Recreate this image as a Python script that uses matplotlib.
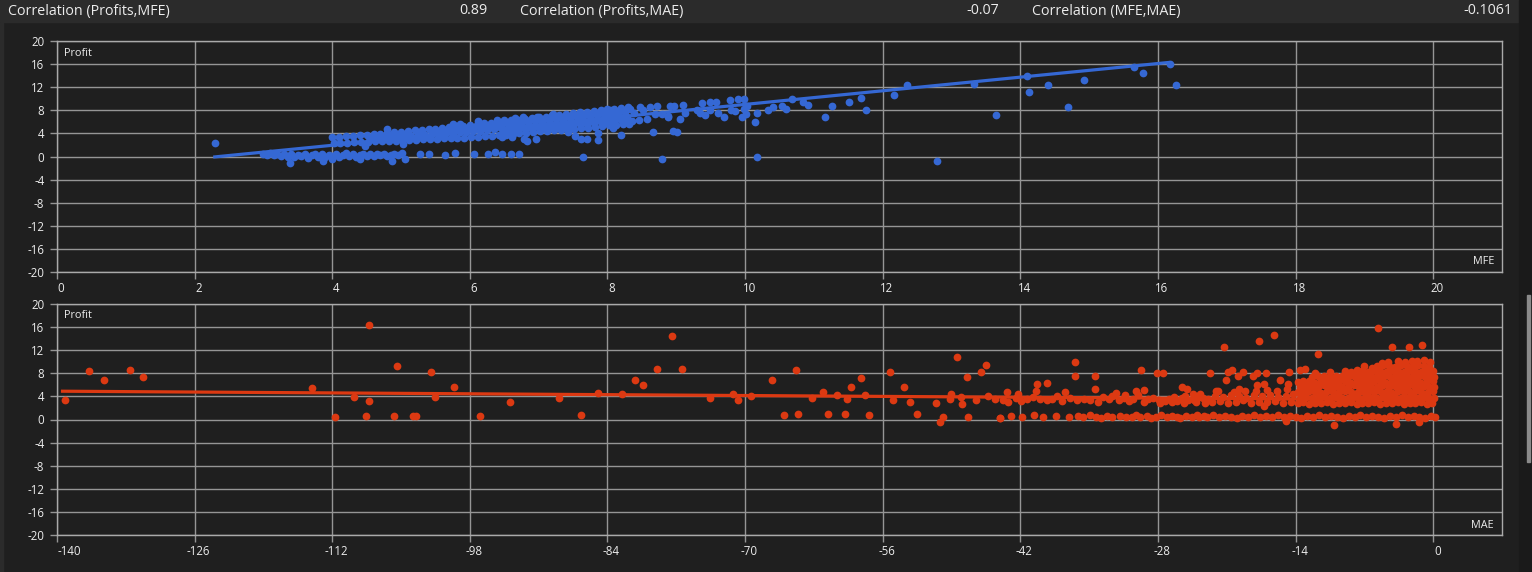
import numpy as np
import matplotlib
matplotlib.use("Agg")
import matplotlib.pyplot as plt
from matplotlib.transforms import ScaledTranslation
from matplotlib.patches import Rectangle

plt.rcParams["axes.unicode_minus"] = False

# ---------------- header texts ----------------
corr_labels = ["Correlation (Profits,MFE)", "Correlation (Profits,MAE)", "Correlation (MFE,MAE)"]
corr_values = ["0.89", "-0.07", "-0.1061"]

# ---------------- ticks ----------------
mfe_ticks = [0, 2, 4, 6, 8, 10, 12, 14, 16, 18, 20]
mae_ticks = [-140, -126, -112, -98, -84, -70, -56, -42, -28, -14, 0]
profit_ticks = [-20, -16, -12, -8, -4, 0, 4, 8, 12, 16, 20]

# ---------------- trend lines ----------------
mfe_trend_x = [2.27, 16.17]
mfe_trend_y = [-0.1, 16.3]
mae_trend_x = [-139.6, -0.1]
mae_trend_y = [4.9, 3.4]

# ---------------- Profit vs MFE (MFE, Profit) ----------------
mfe_band_top = [(4.00,3.30),(4.10,3.38),(4.20,3.52),(4.30,3.58),(4.40,3.72),(4.50,3.78),(4.60,3.92),(4.70,3.98),
    (4.80,4.12),(4.90,4.18),(5.00,4.32),(5.10,4.38),(5.20,4.55),(5.30,4.60),(5.40,4.78),(5.50,4.82),(5.60,5.00),
    (5.70,5.04),(5.80,5.22),(5.90,5.26),(6.00,5.44),(6.10,5.50),(6.20,5.72),(6.30,5.78),(6.40,6.00),(6.50,6.06),
    (6.60,6.28),(6.70,6.34),(6.80,6.56),(6.90,6.62),(7.00,6.84),(7.10,6.90),(7.20,7.12),(7.30,7.18),(7.40,7.40),
    (7.50,7.46),(7.60,7.68),(7.70,7.74),(7.80,7.96),(7.90,8.02),(8.00,8.22),(8.10,8.28),(8.20,8.46),(8.30,8.52)]
mfe_band_mid = [(4.55,3.18),(4.65,3.26),(4.75,3.33),(4.85,3.42),(4.95,3.48),(5.05,3.56),(5.15,3.62),(5.25,3.72),
    (5.35,3.80),(5.45,3.90),(5.55,3.95),(5.65,4.05),(5.75,4.12),(5.85,4.22),(5.95,4.28),(6.05,4.40),(6.15,4.50),
    (6.25,4.62),(6.35,4.72),(6.45,4.86),(6.55,4.95),(6.65,5.10),(6.75,5.18),(6.85,5.34),(6.95,5.42),(7.05,5.58),
    (7.15,5.66),(7.25,5.82),(7.35,5.90),(7.45,6.06),(7.55,6.14),(7.65,6.30),(7.75,6.38),(7.85,6.54),(7.95,6.62),
    (8.05,6.80),(8.15,6.88),(8.25,7.02),
    (7.35,6.55),(7.45,6.73),(7.55,6.80),(7.65,7.00),(7.75,7.06),(7.85,7.25),(7.95,7.32),(8.05,7.50),(8.15,7.58),(8.25,7.74),
    (5.55,4.43),(5.65,4.54),(5.75,4.62),(5.85,4.73),(5.95,4.82),(6.05,4.94),(6.15,5.06),(6.25,5.18),(6.35,5.30),
    (6.45,5.44),(6.55,5.56),(6.65,5.70),(6.75,5.82),(6.85,5.96),(6.95,6.08),(7.05,6.22),(7.15,6.34),(7.25,6.48),
    (6.50,4.36),(6.60,4.49),(6.70,4.57),(6.80,4.70),(6.90,4.79),(7.00,4.92),(7.10,5.02),(7.20,5.14),(7.30,5.23),
    (7.40,5.36),(7.50,5.46),(7.60,5.58),(7.70,5.68),(7.80,5.80),(7.90,5.90),(8.00,6.05),(8.10,6.16),(8.20,6.28),(8.30,6.36)]
mfe_band_low = [(4.02,2.30),(4.12,2.36),(4.22,2.38),(4.32,2.46),(4.42,2.50),(4.52,2.55),(4.62,2.62),(4.72,2.64),
    (4.82,2.72),(4.92,2.75),(5.02,2.82),(5.12,2.84),(5.22,2.92),(5.32,2.95),(5.42,3.02),(5.52,3.05),(5.62,3.12),
    (5.72,3.15),(5.82,3.22),(5.92,3.26),(6.02,3.35),(6.12,3.42),(6.22,3.55),(6.32,3.60),(6.42,3.75),(6.52,3.80),
    (6.62,3.95),(6.72,4.00),(6.82,4.15),(6.92,4.20),(7.02,4.35),(7.12,4.42),(7.22,4.55),(7.32,4.62),(7.42,4.75),
    (7.52,4.82),(7.62,4.95),(7.72,5.02),(7.82,5.15),(7.92,5.22),(8.02,5.40),(8.12,5.50),(8.22,5.62),(8.32,5.70)]
mfe_zero_band = [(3.00,0.50),(3.05,0.30),(3.10,0.60),(3.15,0.20),(3.20,0.45),(3.25,0.10),(3.30,0.40),(3.35,0.00),
    (3.40,0.35),(3.45,-0.10),(3.50,0.30),(3.55,0.05),(3.60,0.45),(3.65,-0.20),(3.70,0.25),(3.75,0.50),(3.80,0.00),
    (3.85,0.35),(3.90,-0.15),(3.95,0.30),(4.00,0.05),(4.05,0.40),(4.10,-0.10),(4.15,0.25),(4.20,0.55),(4.25,0.10),
    (4.30,0.35),(4.35,-0.05),(4.40,0.30),(4.45,0.50),(4.50,0.15),(4.55,0.40),(4.60,0.05),(4.65,0.35),(4.70,0.20),
    (4.75,0.45),(4.80,0.10),(4.85,0.30),(4.90,0.50),(4.95,0.20),
    (3.38,-1.10),(3.87,-0.75),(4.00,-0.50),(4.41,-0.40),(4.87,-0.80),(5.06,-0.50),(5.02,0.60),(5.27,0.45),
    (5.40,0.45),(5.64,0.30),(5.79,0.60),(6.06,0.45),(6.27,0.35),(6.36,0.75),(6.47,0.45),(6.60,0.35),(6.72,0.45),
    (7.64,-0.10),(8.79,-0.35),(10.17,-0.10),(12.79,-0.70)]
mfe_scatter = [(2.30,2.30),(4.48,1.90),(4.80,4.75),(5.03,2.20),(5.76,5.70),(5.85,5.70),(6.12,6.10),(6.40,6.40),
    (6.50,6.40),(6.66,6.60),(6.77,6.80),(6.97,6.90),(7.21,7.30),(6.46,3.30),(6.61,3.30),(6.78,3.10),(6.83,2.60),
    (6.96,3.10),(7.43,4.20),(7.53,3.60),(7.61,3.10),(7.70,3.10),(7.86,4.00),(7.86,2.80),(8.08,5.00),(8.20,3.80),
    (8.66,4.20),(8.95,4.50),(9.01,4.30),
    (7.94,7.60),(8.04,8.00),(8.19,8.10),(8.33,8.30),(8.47,8.50),(8.62,8.50),(8.72,8.80),(8.91,8.80),(8.97,8.80),
    (9.10,9.00),(9.37,9.30),(9.49,9.40),(9.58,9.50),(9.78,9.70),(9.90,9.90),(9.99,9.90),(7.94,5.90),(8.18,6.80),
    (8.28,6.80),(8.04,6.80),(8.14,7.40),(8.36,6.20),(8.38,7.60),(8.46,6.40),(8.52,8.00),(8.57,6.50),(8.69,7.40),
    (8.79,7.40),(8.88,7.00),(8.88,6.80),(9.06,6.50),(9.13,7.50),(9.30,8.00),(9.35,7.60),(9.42,7.10),(9.49,8.10),
    (9.61,7.60),(9.70,6.90),(9.80,8.00),(9.86,7.80),(9.96,6.80),(9.98,8.30),(10.03,8.80),(10.02,7.40),(10.15,5.90),
    (10.17,7.60),(10.33,8.10),(10.41,8.50),(10.54,8.80),(10.59,8.30),(10.68,10.00),(10.84,9.40),(10.92,9.00),
    (11.16,6.80),(11.27,8.70),(11.51,9.50),(11.68,10.20),(11.76,8.10),(12.16,10.60),(12.35,12.30),(13.33,12.60),
    (13.65,7.10),(14.10,14.00),(14.13,11.10),(14.40,12.30),(14.69,8.50),(14.93,13.30),(15.65,15.50),(15.78,14.40),
    (16.17,16.00),(16.26,12.30)]

# ---------------- Profit vs MAE (MAE, Profit) ----------------
mae_scatter = [(-139.2,3.4),(-136.7,8.4),(-135.2,6.8),(-132.6,8.5),(-131.3,7.3),(-114.1,5.5),(-111.7,0.4),
    (-109.8,3.9),(-108.6,0.6),(-108.3,16.3),(-108.3,3.2),(-105.7,0.6),(-105.4,9.2),(-103.8,0.6),(-103.5,0.6),
    (-102.0,8.3),(-101.5,3.9),(-99.6,5.7),(-97.0,0.6),(-93.9,3.1),(-88.9,3.8),(-86.7,0.7),(-85.0,4.6),(-82.5,4.5),
    (-81.2,6.8),(-80.4,5.9),(-79.0,8.8),(-77.4,14.4),(-76.4,8.7),(-73.6,3.8),(-71.2,4.5),(-70.7,3.3),(-69.4,4.0),
    (-67.3,6.8),(-66.0,0.7),(-64.8,8.5),(-64.6,0.9),(-63.2,3.8),(-62.1,4.7),(-61.6,0.9),(-60.6,4.3),(-59.8,0.9),
    (-59.6,3.5),(-59.2,5.7),(-58.2,7.1),(-57.8,4.3),(-57.4,0.7),(-55.3,8.3),(-55.0,3.3),(-53.8,5.7),(-53.2,3.1),
    (-52.5,0.9),(-50.6,2.9),(-50.2,-0.5),(-49.9,0.5),(-49.1,4.5),(-48.4,10.9),(-47.9,2.6),(-47.4,7.3),(-47.3,0.5),
    (-46.0,8.3),(-45.5,9.5),(-44.1,0.3),(-43.4,4.7),(-42.2,4.5),(-40.4,4.9),(-40.3,6.2),(-39.3,6.4),(-37.5,4.7),
    (-36.4,9.9),(-36.4,7.6),(-34.4,7.5),(-34.4,5.2),(-32.3,4.6),(-31.4,4.3),(-30.2,4.9),(-29.7,8.6),(-29.4,5.1),
    (-28.1,8.1),(-27.5,8.1),(-25.6,5.7),(-25.0,5.2),(-24.4,4.4),(-23.7,4.5),(-22.7,8.0),(-22.1,5.0),(-21.9,5.0),
    (-21.3,12.6),(-21.1,6.9),(-20.9,8.2),(-20.5,8.5),(-19.9,7.6),(-19.8,5.3),(-19.3,8.3),(-18.3,7.6),(-17.9,8.0),
    (-17.9,5.9),(-17.7,13.6),(-17.2,6.2),(-17.2,2.3),(-17.0,8.1),(-16.2,14.7),(-15.6,6.8),(-14.8,6.1),(-14.7,8.3),
    (-13.6,8.5),(-13.0,8.7),(-11.7,11.4),(-10.1,-1.0),(-5.6,15.8),(-4.2,12.5),(-3.8,-0.7),(-2.5,12.5),(-1.1,12.9),
    (-15.0,-0.2),(-1.4,-0.5)]
mae_mid_band = [(-49.2,3.6),(-48.0,3.9),(-46.5,3.3),(-45.3,4.0),(-44.6,3.5),(-43.8,3.4),(-43.3,3.1),(-42.4,3.7),
    (-41.9,3.2),(-41.3,3.5),(-40.7,3.9),(-40.0,3.6),(-39.3,3.3),(-38.8,3.6),(-38.3,4.0),(-37.8,3.2),(-36.9,3.8),
    (-36.2,3.3),(-35.5,3.6),(-34.9,3.4),(-34.1,3.0),(-33.6,3.9),(-33.0,3.6),(-32.7,4.1),(-32.0,3.3),(-31.5,3.7),
    (-30.9,3.2),(-30.5,3.5),(-30.0,4.2),(-29.4,3.1),(-29.0,3.6),(-28.5,3.8),(-27.9,3.4),(-27.3,3.2),(-26.9,3.6),
    (-26.4,3.9),(-26.1,3.2),(-25.6,3.7),(-25.2,4.0),(-24.9,3.4),(-24.3,3.3),(-23.8,3.9),(-23.4,3.7),(-22.9,3.5),
    (-27.8,2.9),(-26.6,3.0),(-25.4,2.8),(-24.1,3.0),(-23.2,2.9),
    (-22.5,3.0),(-21.7,3.2),(-20.9,2.9),(-20.1,3.1),(-19.3,3.3),(-18.5,2.9),(-17.7,3.1),(-16.9,3.0),(-16.1,3.2),
    (-15.3,2.9),(-14.5,3.1),
    (-22.2,4.1),(-21.4,3.9),(-20.6,4.2),(-19.8,4.0),(-19.0,3.8),(-18.2,4.2),(-17.4,4.0),(-16.6,4.3),(-15.8,3.9),
    (-15.0,4.1),(-14.3,4.4),
    (-20.3,4.8),(-19.1,5.0),(-18.0,4.9),(-16.9,5.1),(-15.9,5.0),(-14.9,5.3)]
mae_mass = [
    (-13.8,2.8),(-13.2,3.0),(-12.6,2.7),(-12.0,2.9),(-11.4,2.8),(-10.8,3.0),(-10.2,2.7),(-9.6,2.9),(-9.0,2.8),
    (-8.4,3.0),(-7.8,2.7),(-7.2,2.9),(-6.6,2.8),(-6.0,3.0),(-5.4,2.7),(-4.8,2.9),(-4.2,2.8),(-3.6,3.0),(-3.0,2.7),
    (-2.4,2.9),(-1.8,2.8),(-1.2,3.0),(-0.6,2.7),(-0.1,2.9),
    (-13.5,3.8),(-12.9,3.9),(-12.3,3.7),(-11.7,3.8),(-11.1,4.0),(-10.5,3.7),(-9.9,3.9),(-9.3,3.8),(-8.7,3.7),
    (-8.1,4.0),(-7.5,3.8),(-6.9,3.9),(-6.3,3.7),(-5.7,3.8),(-5.1,4.0),(-4.5,3.7),(-3.9,3.9),(-3.3,3.8),(-2.7,3.7),
    (-2.1,4.0),(-1.5,3.8),(-0.9,3.9),(-0.4,3.7),(0.1,3.8),
    (-13.8,4.8),(-13.2,4.7),(-12.6,4.9),(-12.0,4.8),(-11.4,4.6),(-10.8,4.9),(-10.2,4.8),(-9.6,4.7),(-9.0,4.9),
    (-8.4,4.8),(-7.8,4.6),(-7.2,4.9),(-6.6,4.8),(-6.0,4.7),(-5.4,4.9),(-4.8,4.8),(-4.2,4.6),(-3.6,4.9),(-3.0,4.8),
    (-2.4,4.7),(-1.8,4.9),(-1.2,4.8),(-0.6,4.6),(0.0,4.9),
    (-13.5,5.7),(-12.9,5.8),(-12.3,5.6),(-11.7,5.7),(-11.1,5.9),(-10.5,5.6),(-9.9,5.8),(-9.3,5.7),(-8.7,5.6),
    (-8.1,5.9),(-7.5,5.7),(-6.9,5.8),(-6.3,5.6),(-5.7,5.7),(-5.1,5.9),(-4.5,5.6),(-3.9,5.8),(-3.3,5.7),(-2.7,5.6),
    (-2.1,5.9),(-1.5,5.7),(-0.9,5.8),(-0.4,5.6),(0.1,5.7),
    (-13.8,6.5),(-13.2,6.7),(-12.6,6.6),(-12.0,6.4),(-11.4,6.7),(-10.8,6.6),(-10.2,6.5),(-9.6,6.7),(-9.0,6.6),
    (-8.4,6.4),(-7.8,6.7),(-7.2,6.6),(-6.6,6.5),(-6.0,6.7),(-5.4,6.6),(-4.8,6.4),(-4.2,6.7),(-3.6,6.6),(-3.0,6.5),
    (-2.4,6.7),(-1.8,6.6),(-1.2,6.4),(-0.6,6.7),(0.0,6.6),
    (-12.3,7.4),(-11.7,7.6),(-11.1,7.5),(-10.5,7.3),(-9.9,7.6),(-9.3,7.5),(-8.7,7.4),(-8.1,7.6),(-7.5,7.5),
    (-6.9,7.3),(-6.3,7.6),(-5.7,7.5),(-5.1,7.4),(-4.5,7.6),(-3.9,7.5),(-3.3,7.3),(-2.7,7.6),(-2.1,7.5),(-1.5,7.4),
    (-0.9,7.6),(-0.4,7.5),(0.1,7.3),
    (-9.0,8.4),(-8.4,8.3),(-7.8,8.5),(-7.2,8.4),(-6.6,8.2),(-6.0,8.5),(-5.4,8.4),(-4.8,8.3),(-4.2,8.5),(-3.6,8.4),
    (-3.0,8.2),(-2.4,8.5),(-1.8,8.4),(-1.2,8.3),(-0.6,8.5),(0.0,8.4),
    (-5.7,9.2),(-5.1,9.4),(-4.5,9.3),(-3.9,9.1),(-3.3,9.4),(-2.7,9.3),(-2.1,9.2),(-1.5,9.4),(-0.9,9.3),(-0.4,9.1),
    (-3.6,10.1),(-2.9,10.0),(-2.2,10.2),(-1.6,10.1),(-0.9,10.3),(-0.3,10.0),
    (-10.5,8.3),(-12.0,8.0),(-7.0,9.2),(-6.2,9.0),(-4.6,10.0),(-5.2,9.8)]
mae_zero_band = [(-44.1,0.3),(-43.0,0.6),(-41.8,0.5),(-40.6,0.7),(-39.7,0.5),(-38.4,0.6),(-37.1,0.4),(-36.1,0.6),
    (-35.6,0.5),(-34.9,0.7),(-34.3,0.4),(-33.8,0.2),(-33.2,0.6),(-32.7,0.5),(-31.9,0.6),(-31.3,0.4),(-30.6,0.5),
    (-30.2,0.7),(-29.8,0.4),(-29.1,0.6),(-28.7,0.3),(-28.2,0.5),(-27.7,0.7),(-27.1,0.4),(-26.6,0.6),(-26.1,0.5),
    (-25.8,0.3),(-25.1,0.6),(-24.5,0.5),(-24.0,0.7),(-23.8,0.4),(-23.3,0.6),(-23.0,0.5),(-22.4,0.7),(-21.8,0.4),
    (-21.2,0.6),(-20.6,0.5),(-20.0,0.3),(-19.4,0.6),(-18.8,0.5),(-18.2,0.7),(-17.6,0.4),(-17.0,0.6),(-16.4,0.5),
    (-15.8,0.7),(-15.2,0.4),(-14.6,0.6),(-14.0,0.5),(-13.4,0.3),(-12.8,0.6),(-12.2,0.5),(-11.6,0.7),(-11.0,0.4),
    (-10.4,0.6),(-9.8,0.5),(-9.2,0.2),(-8.6,0.6),(-8.0,0.5),(-7.4,0.7),(-6.8,0.4),(-6.2,0.6),(-5.6,0.5),(-5.0,0.3),
    (-4.4,0.6),(-3.8,0.5),(-3.2,0.7),(-2.6,0.4),(-2.0,0.6),(-1.4,0.5),(-0.8,0.2),(-0.2,0.6),(0.2,0.4)]

# ---------------- style ----------------
BG = "#1f1f1f"
HEADER = "#2b2b2b"
GRID = "#959595"
TXT = "#ececec"
BLUE = "#3568d4"
RED = "#dc3912"
FONT = ["Open Sans", "DejaVu Sans"]

W, H = 1532, 572
fig = plt.figure(figsize=(W / 100, H / 100), dpi=100, facecolor=BG)

def fx(px):
    return px / W

def fy(py):
    return 1 - py / H

# header bar, left strip, scrollbar
fig.patches.append(Rectangle((0, fy(22)), fx(1519), 22 / H, transform=fig.transFigure, color=HEADER, zorder=0))
fig.patches.append(Rectangle((0, 0), fx(3), fy(22), transform=fig.transFigure, color=HEADER, zorder=0))
fig.patches.append(Rectangle((fx(1519), 0), fx(13), 1, transform=fig.transFigure, color="#1a1a1a", zorder=0))
fig.patches.append(Rectangle((fx(1527), fy(462)), fx(3), 167 / H, transform=fig.transFigure, color="#8a8a8a", zorder=1))

label_x = [8, 520, 1032]
value_right = [487, 999, 1512]
for lab, val, lx, vr in zip(corr_labels, corr_values, label_x, value_right):
    fig.text(fx(lx), fy(11), lab, color=TXT, fontsize=10.3, family=FONT, ha="left", va="center")
    fig.text(fx(vr), fy(11), val, color=TXT, fontsize=10.3, family=FONT, ha="right", va="center")

def style_axes(ax, xticks, xlim, xlabel):
    ax.set_facecolor(BG)
    ax.set_xlim(*xlim)
    ax.set_ylim(-20, 20)
    ax.set_xticks(xticks)
    ax.set_yticks(profit_ticks)
    ax.grid(True, color=GRID, linewidth=1.0, zorder=0)
    ax.set_axisbelow(True)
    for sp in ax.spines.values():
        sp.set_color("#aaaaaa")
        sp.set_linewidth(1.0)
    ax.tick_params(axis="both", colors=GRID, length=5, width=1.0, labelcolor=TXT, labelsize=8.3)
    ax.tick_params(axis="y", pad=4)
    ax.tick_params(axis="x", pad=2.5)
    for t in ax.get_xticklabels() + ax.get_yticklabels():
        t.set_family(FONT)
    labels = ax.get_xticklabels()
    for i, t in enumerate(labels):
        shift = 12 if (i == 0 and xlim[0] < 0) else 4
        t.set_transform(t.get_transform() + ScaledTranslation(shift / 100, 0, fig.dpi_scale_trans))
    ax.annotate("Profit", xy=(0, 1), xycoords="axes fraction", xytext=(7, -12), textcoords="offset pixels",
                ha="left", va="center", color=TXT, fontsize=7.8, family=FONT)
    ax.annotate(xlabel, xy=(1, 0), xycoords="axes fraction", xytext=(-8, 10), textcoords="offset pixels",
                ha="right", va="center", color=TXT, fontsize=7.8, family=FONT)

ax1 = fig.add_axes([fx(57), fy(272), fx(1445), 231 / H])
ax2 = fig.add_axes([fx(57), fy(535), fx(1445), 231 / H])
style_axes(ax1, mfe_ticks, (0, 21), "MFE")
style_axes(ax2, mae_ticks, (-140, 7), "MAE")

def draw(ax, groups, color):
    pts = np.array([p for g in groups for p in g])
    ax.scatter(pts[:, 0], pts[:, 1], s=31, color=color, linewidths=0, zorder=3)

ax1.plot(mfe_trend_x, mfe_trend_y, color=BLUE, linewidth=2.3, zorder=2, solid_capstyle="butt")
draw(ax1, [mfe_band_top, mfe_band_mid, mfe_band_low, mfe_zero_band, mfe_scatter], BLUE)

ax2.plot(mae_trend_x, mae_trend_y, color=RED, linewidth=2.3, zorder=2, solid_capstyle="butt")
draw(ax2, [mae_scatter, mae_mid_band, mae_mass, mae_zero_band], RED)

fig.savefig("out.png", dpi=100, facecolor=BG)
